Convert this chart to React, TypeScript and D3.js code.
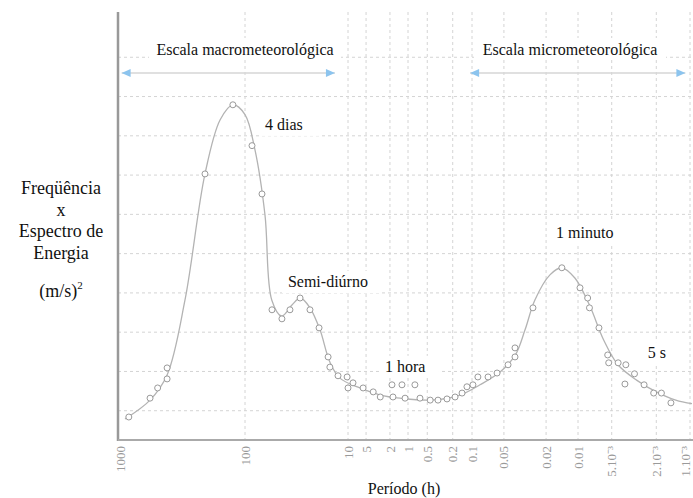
import * as d3 from 'd3'

// Period tick values (hours) and their printed labels
const PERIOD_TICKS = [1000, 100, 10, 5, 2, 1, 0.5, 0.2, 0.1, 0.05, 0.02, 0.01, 0.005, 0.002, 0.001]
const TICK_LABELS = ['1000', '100', '10', '5', '2', '1', '0.5', '0.2', '0.1', '0.05', '0.02', '0.01', '5.10⁻³', '2.10⁻³', '1.10⁻³']

// Smoothed spectrum: [period (h), f·S(f) arbitrary units]
const CURVE: [number, number][] = [
  [912, 0.79], [575, 1.27], [420, 1.91], [302, 3.82], [209, 7.03], [158, 8.41],
  [125, 8.79], [100, 8.54], [80, 7.64], [64, 5.99], [55, 3.82], [44, 3.41],
  [35, 3.69], [29, 3.87], [23.4, 3.62], [18.7, 3.06], [15, 2.24], [12, 1.83],
  [6.3, 1.58], [2.9, 1.4], [1.36, 1.32], [0.45, 1.27], [0.154, 1.4], [0.084, 1.66],
  [0.054, 1.99], [0.039, 2.42], [0.0316, 3.06], [0.0255, 3.82], [0.0184, 4.46],
  [0.0142, 4.64], [0.0107, 4.38], [0.0079, 3.69], [0.0059, 2.8], [0.0044, 2.17],
  [0.003, 1.78], [0.002, 1.48], [0.00134, 1.27], [0.00096, 1.18],
]

// Observed values
const MACRO_OBS: [number, number][] = [
  [850, 0.84], [575, 1.32], [500, 1.58], [420, 1.81], [420, 2.09], [209, 7.03],
  [125, 8.79], [85.5, 7.75], [68.4, 6.52], [54.7, 3.57], [43.8, 3.34], [36.6, 3.57],
  [29.2, 3.87], [23.4, 3.57], [19.1, 3.11], [15.6, 2.37], [15, 2.11], [12.5, 1.89],
  [10.2, 1.86], [10, 1.58],
]
const GAP_OBS: [number, number][] = [
  [8.25, 1.71], [5.6, 1.58], [3.8, 1.48], [2.9, 1.35], [1.85, 1.66], [1.78, 1.35],
  [1.26, 1.66], [1.12, 1.32], [0.78, 1.66], [0.65, 1.32], [0.45, 1.27], [0.34, 1.27],
  [0.246, 1.3], [0.184, 1.35], [0.143, 1.45], [0.12, 1.61], [0.098, 1.66],
]
const MICRO_OBS: [number, number][] = [
  [0.088, 1.86], [0.0706, 1.86], [0.058, 1.96], [0.0457, 2.17], [0.0393, 2.37],
  [0.0393, 2.6], [0.0266, 3.62], [0.0142, 4.64], [0.0096, 4.13], [0.0082, 3.87],
  [0.0079, 3.62], [0.0065, 3.11], [0.00543, 2.42], [0.00532, 2.22], [0.00438, 2.22],
  [0.00374, 2.17], [0.00313, 1.94], [0.00381, 1.68], [0.00257, 1.66], [0.00211, 1.45],
  [0.0018, 1.45], [0.00148, 1.2],
]

// Peak annotations: [text, period, energy] (text start / baseline)
const PEAK_LABELS: [string, number, number][] = [
  ['4 dias', 64, 8.15],
  ['Semi-diúrno', 38.3, 4.15],
  ['1 hora', 2.42, 1.99],
  ['1 minuto', 0.0161, 5.4],
  ['5 s', 0.00238, 2.34],
]

// Scale ranges: [title, period from, period to, title centre period]
const SCALE_BANDS: [string, number, number, number][] = [
  ['Escala macrometeorológica', 970, 13.4, 100],
  ['Escala micrometeorológica', 0.107, 0.0011, 0.0119],
]

const Y_LABEL = ['Freqüência', 'x', 'Espectro de', 'Energia']

const W = 693
const H = 498
const FONT = '"Liberation Serif", "Times New Roman", serif'

export default function App() {
  // hand-drawn log axis: decades are not evenly spaced
  const x = d3.scaleLinear()
    .domain([3, 2, 1, 0, -1, -2, -3])
    .range([120, 245, 348, 408, 472, 578, 690])
  const px = (p: number) => x(Math.log10(p))

  const y = d3.scaleLinear().domain([0, 11]).range([450, 18])

  const top = 12
  const bottom = 440
  const left = 118

  const line = d3.line<[number, number]>()
    .x(d => px(d[0]))
    .y(d => y(d[1]))
    .curve(d3.curveCatmullRom.alpha(0.5))

  const allObs = [...MACRO_OBS, ...GAP_OBS, ...MICRO_OBS]
  const hGrid = d3.range(1, 11)

  return (
    <svg width={W} height={H} style={{ position: 'absolute', left: 0, top: 0, background: '#fff' }}
      fontFamily={FONT}>
      {/* grid */}
      <g stroke="#d4d4d4" strokeWidth={1} strokeDasharray="3,3">
        {hGrid.map(v => (
          <line key={'h' + v} x1={left} x2={W} y1={y(v)} y2={y(v)} />
        ))}
        {PERIOD_TICKS.slice(1).map(p => (
          <line key={'v' + p} x1={px(p)} x2={px(p)} y1={top} y2={bottom} />
        ))}
      </g>

      {/* scale bands */}
      {SCALE_BANDS.map(([t, p0, p1, pc]) => {
        const x0 = px(p0)
        const x1 = px(p1)
        const cx = px(pc)
        const yy = 73
        return (
          <g key={t}>
            <rect x={cx - 96} y={38} width={192} height={22} fill="#fff" />
            <line x1={x0} x2={x1} y1={yy} y2={yy} stroke="#d6d6d6" strokeWidth={1.5} />
            <path d={`M${x0},${yy} l9,-4 l0,8 z`} fill="#8cc4ee" />
            <path d={`M${x1},${yy} l-9,-4 l0,8 z`} fill="#8cc4ee" />
            <text x={cx} y={55} textAnchor="middle" fontSize={16} fill="#111">{t}</text>
          </g>
        )
      })}

      {/* label backgrounds */}
      {PEAK_LABELS.map(([t, p, e]) => (
        <rect key={'bg' + t} x={px(p) - 6} y={y(e) - 16} width={t.length * 8 + 12} height={22} fill="#fff" />
      ))}

      {/* spectrum */}
      <path d={line(CURVE) ?? ''} fill="none" stroke="#b3b3b3" strokeWidth={1.3} />
      <g fill="#fff" stroke="#9a9a9a" strokeWidth={1}>
        {allObs.map((d, i) => (
          <circle key={i} cx={px(d[0])} cy={y(d[1])} r={3} />
        ))}
      </g>

      {PEAK_LABELS.map(([t, p, e]) => (
        <text key={t} x={px(p)} y={y(e)} fontSize={16} fill="#111">{t}</text>
      ))}

      {/* axes */}
      <line x1={left} x2={left} y1={top} y2={bottom + 1} stroke="#999" strokeWidth={2.5} />
      <line x1={left} x2={W} y1={bottom} y2={bottom} stroke="#aaa" strokeWidth={2} />

      {PERIOD_TICKS.map((p, i) => (
        <text key={'t' + p} transform={`translate(${Math.min(px(p), 685)},${bottom + 6}) rotate(-90)`}
          textAnchor="end" dy="0.35em" fontSize={13} fill="#9a9a9a">{TICK_LABELS[i]}</text>
      ))}

      <text x={404} y={494} textAnchor="middle" fontSize={16} fill="#111">Período (h)</text>

      {/* y label */}
      <g fontSize={18} fill="#111" textAnchor="middle">
        {Y_LABEL.map((t, i) => (
          <text key={t} x={61} y={194 + i * 21.5}>{t}</text>
        ))}
        <text x={61} y={297}>(m/s)<tspan fontSize={11} dy={-8}>2</tspan></text>
      </g>
    </svg>
  )
}
